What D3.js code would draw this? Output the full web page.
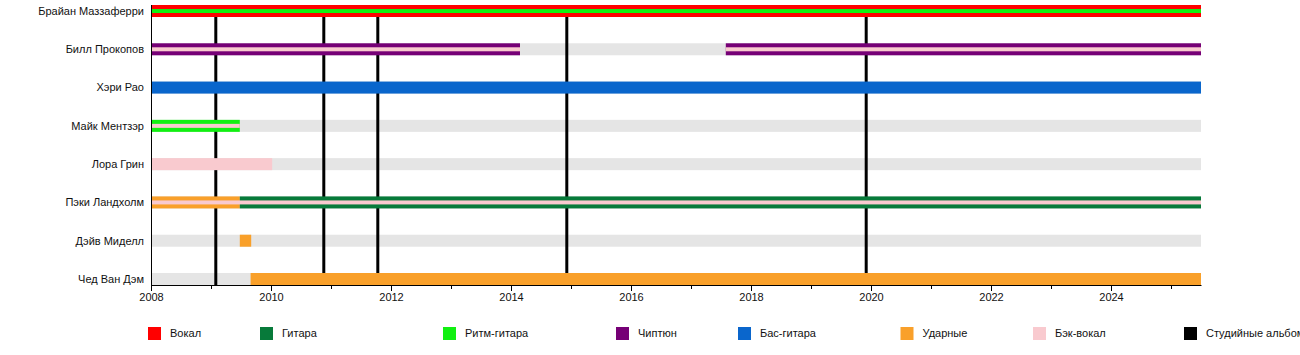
<!DOCTYPE html>
<html>
<head>
<meta charset="utf-8">
<script src="https://cdn.jsdelivr.net/npm/d3@7"></script>
<style>
  html, body { margin: 0; padding: 0; background: #fff; }
  svg { display: block; }
  text { font-family: "Liberation Sans", Arial, sans-serif; font-size: 11px; fill: #111; }
</style>
</head>
<body>
<svg id="chart" width="1300" height="355"></svg>
<script>
// ---------------- DATA ----------------
const members = ["Брайан Маззаферри", "Билл Прокопов", "Хэри Рао", "Майк Ментзэр",
                 "Лора Грин", "Пэки Ландхолм", "Дэйв Миделл", "Чед Ван Дэм"];
const roles = ["Вокал", "Гитара", "Ритм-гитара", "Чиптюн", "Бас-гитара", "Ударные", "Бэк-вокал", "Студийные альбомы"];
const roleColors = ["#ff0000", "#077a3a", "#11f011", "#760076", "#0a66cc", "#f9a02a", "#f9cacf", "#000000"];

const timeStart = 2008;
const timeEnd = 2025.5;

// main bars: [member, role, start, end]
const mainBars = [
  ["Брайан Маззаферри", "Вокал", 2008, 2025.5],
  ["Билл Прокопов", "Чиптюн", 2008, 2014.15],
  ["Билл Прокопов", "Чиптюн", 2017.58, 2025.5],
  ["Хэри Рао", "Бас-гитара", 2008, 2025.5],
  ["Майк Ментзэр", "Ритм-гитара", 2008, 2009.48],
  ["Лора Грин", "Бэк-вокал", 2008, 2010.02],
  ["Пэки Ландхолм", "Ударные", 2008, 2009.48],
  ["Пэки Ландхолм", "Гитара", 2009.48, 2025.5],
  ["Дэйв Миделл", "Ударные", 2009.48, 2009.67],
  ["Чед Ван Дэм", "Ударные", 2009.66, 2025.5]
];
// secondary (thin inner) bars: [member, role, start, end]
const innerBars = [
  ["Брайан Маззаферри", "Ритм-гитара", 2008, 2025.5],
  ["Билл Прокопов", "Бэк-вокал", 2008, 2014.15],
  ["Билл Прокопов", "Бэк-вокал", 2017.58, 2025.5],
  ["Майк Ментзэр", "Бэк-вокал", 2008, 2009.48],
  ["Пэки Ландхолм", "Бэк-вокал", 2008, 2025.5]
];
const albums = [2009.08, 2010.88, 2011.78, 2014.93, 2019.92];
const majorTicks = [2008, 2010, 2012, 2014, 2016, 2018, 2020, 2022, 2024];
const minorTicks = [2009, 2011, 2013, 2015, 2017, 2019, 2021, 2023, 2025];

// ---------------- LAYOUT ----------------
const plotLeft = 151, plotRight = 1201, plotTop = 5, plotBottom = 285;
const barH = 12, innerH = 4;
const legendX = [148, 260, 443, 616, 738, 900.5, 1033, 1184];
const legendY = 327, legendSize = 13;

const svg = d3.select("#chart");
const x = d3.scaleLinear().domain([timeStart, timeEnd]).range([plotLeft, plotRight]);
const y = d3.scalePoint().domain(members).range([plotTop + barH / 2, plotBottom - barH / 2]);
const color = d3.scaleOrdinal().domain(roles).range(roleColors);

// grey background bars
svg.append("g").selectAll("rect").data(members).join("rect")
  .attr("x", x(timeStart)).attr("width", x(timeEnd) - x(timeStart))
  .attr("y", d => y(d) - barH / 2).attr("height", barH)
  .attr("fill", "#e5e5e5");

// album lines
svg.append("g").selectAll("line").data(albums).join("line")
  .attr("x1", d => x(d)).attr("x2", d => x(d))
  .attr("y1", plotTop).attr("y2", plotBottom)
  .attr("stroke", color("Студийные альбомы")).attr("stroke-width", 3);

// main bars
svg.append("g").selectAll("rect").data(mainBars).join("rect")
  .attr("x", d => x(d[2])).attr("width", d => x(d[3]) - x(d[2]))
  .attr("y", d => y(d[0]) - barH / 2).attr("height", barH)
  .attr("fill", d => color(d[1]));

// inner bars
svg.append("g").selectAll("rect").data(innerBars).join("rect")
  .attr("x", d => x(d[2])).attr("width", d => x(d[3]) - x(d[2]))
  .attr("y", d => y(d[0]) - innerH / 2).attr("height", innerH)
  .attr("fill", d => color(d[1]));

// member labels
svg.append("g").selectAll("text").data(members).join("text")
  .attr("x", 144).attr("y", d => y(d)).attr("dy", "0.35em")
  .attr("text-anchor", "end").text(d => d);

// axes
const axisG = svg.append("g").attr("transform", `translate(0,${plotBottom})`);
axisG.call(d3.axisBottom(x).tickValues(majorTicks).tickFormat(d3.format("d")).tickSize(6).tickSizeOuter(0));
axisG.select(".domain").attr("stroke", "#000");
axisG.selectAll(".tick line").attr("stroke", "#000");
axisG.selectAll(".tick text").attr("font-family", "Liberation Sans, Arial, sans-serif").attr("font-size", 11).attr("fill", "#111").attr("dy", "0.9em").attr("y", 6);

const minorG = svg.append("g").attr("transform", `translate(0,${plotBottom})`);
minorG.call(d3.axisBottom(x).tickValues(minorTicks).tickFormat("").tickSize(4).tickSizeOuter(0));
minorG.select(".domain").remove();
minorG.selectAll(".tick line").attr("stroke", "#000");

// left vertical axis line
svg.append("line")
  .attr("x1", plotLeft + 0.5).attr("x2", plotLeft + 0.5)
  .attr("y1", plotTop).attr("y2", plotBottom)
  .attr("stroke", "#000");

// legend
const leg = svg.append("g").selectAll("g").data(roles).join("g")
  .attr("transform", (d, i) => `translate(${legendX[i]},${legendY})`);
leg.append("rect").attr("width", legendSize).attr("height", legendSize).attr("fill", d => color(d));
leg.append("text").attr("x", 22).attr("y", legendSize / 2).attr("dy", "0.35em").text(d => d);
</script>
</body>
</html>
